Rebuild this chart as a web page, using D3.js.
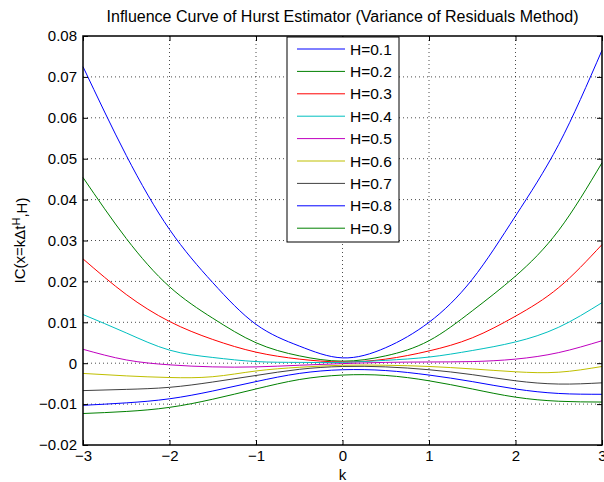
<!DOCTYPE html>
<html>
<head>
<meta charset="utf-8">
<script src="https://cdn.jsdelivr.net/npm/d3@7"></script>
<style>
  body { margin: 0; background: #fff; }
  svg text { font-family: "Liberation Sans", Arial, Helvetica, sans-serif; }
</style>
</head>
<body>
<div id="chart"></div>
<script>
const kValues = [-3, -2.5, -2, -1.5, -1, -0.5, 0, 0.5, 1, 1.5, 2, 2.5, 3];

// one array per Hurst exponent
const h01 = [0.0725, 0.0508, 0.0327, 0.0197, 0.0095, 0.0042, 0.0013, 0.0038, 0.0100, 0.0205, 0.0360, 0.0535, 0.0765];
const h02 = [0.0454, 0.0305, 0.0187, 0.0110, 0.0050, 0.0018, 0.0005, 0.0018, 0.0055, 0.0128, 0.0213, 0.0325, 0.0490];
const h03 = [0.0255, 0.0168, 0.0102, 0.0058, 0.0027, 0.0010, 0.0003, 0.0010, 0.0030, 0.0062, 0.0115, 0.0185, 0.0290];
const h04 = [0.0119, 0.0074, 0.0032, 0.0014, 0.0004, 0.0002, 0.0002, 0.0007, 0.0015, 0.0031, 0.0052, 0.0088, 0.0148];
const h05 = [0.0034, 0.0008, -0.0004, -0.0009, -0.0009, -0.0005, -0.0001, 0.0002, 0.0003, 0.0004, 0.0010, 0.0026, 0.0055];
const h06 = [-0.0025, -0.0031, -0.0035, -0.0033, -0.0019, -0.0010, -0.0005, -0.0005, -0.0008, -0.0014, -0.0021, -0.0022, -0.0008];
const h07 = [-0.0067, -0.0064, -0.0059, -0.0046, -0.0030, -0.0015, -0.0008, -0.0009, -0.0016, -0.0028, -0.0043, -0.0051, -0.0048];
const h08 = [-0.0103, -0.0097, -0.0087, -0.0068, -0.0045, -0.0025, -0.0016, -0.0018, -0.0029, -0.0045, -0.0063, -0.0074, -0.0076];
const h09 = [-0.0123, -0.0118, -0.0108, -0.0088, -0.0063, -0.0040, -0.0029, -0.0030, -0.0043, -0.0063, -0.0083, -0.0093, -0.0095];

const seriesNames = ["H=0.1", "H=0.2", "H=0.3", "H=0.4", "H=0.5", "H=0.6", "H=0.7", "H=0.8", "H=0.9"];
const seriesValues = [h01, h02, h03, h04, h05, h06, h07, h08, h09];

const xTicks = [-3, -2, -1, 0, 1, 2, 3];
const yTicks = [-0.02, -0.01, 0, 0.01, 0.02, 0.03, 0.04, 0.05, 0.06, 0.07, 0.08];

// matlab line colour order
const colors = ["#0000ff", "#008000", "#ff0000", "#00bfbf", "#bf00bf", "#bfbf00", "#404040", "#0000ff", "#008000"];

const W = 604, H = 482;
const margin = { top: 36, right: 2, bottom: 37, left: 83 };
const width = W - margin.left - margin.right,
      height = H - margin.top - margin.bottom;

const svg = d3.select("#chart")
              .append("svg")
              .attr("width", W)
              .attr("height", H);

const g = svg.append("g")
             .attr("transform", `translate(${margin.left},${margin.top})`);

const x = d3.scaleLinear().domain([-3, 3]).range([0, width]);
const y = d3.scaleLinear().domain([-0.02, 0.08]).range([height, 0]);

// dotted grid
g.append("g")
 .selectAll("line")
 .data(xTicks.slice(1, -1))
 .join("line")
 .attr("x1", d => x(d)).attr("x2", d => x(d))
 .attr("y1", 0).attr("y2", height)
 .attr("stroke", "#000").attr("stroke-opacity", 0.7)
 .attr("stroke-dasharray", "1,3");

g.append("g")
 .selectAll("line")
 .data(yTicks.slice(1, -1))
 .join("line")
 .attr("x1", 0).attr("x2", width)
 .attr("y1", d => y(d)).attr("y2", d => y(d))
 .attr("stroke", "#000").attr("stroke-opacity", 0.7)
 .attr("stroke-dasharray", "1,3");

// curves
const line = d3.line()
               .x((d, i) => x(kValues[i]))
               .y(d => y(d))
               .curve(d3.curveNatural);

seriesValues.forEach((vals, i) => {
    g.append("path")
     .datum(vals)
     .attr("fill", "none")
     .attr("stroke", colors[i])
     .attr("stroke-width", 1)
     .attr("d", line);
});

// axes, ticks pointing inward like matlab
const yFmt = d => d === 0 ? "0" : d3.format(".2f")(d);

const xAxis = g.append("g")
   .attr("transform", `translate(0,${height})`)
   .call(d3.axisBottom(x).tickValues(xTicks).tickSize(-5).tickPadding(4).tickFormat(d3.format("d")));
g.append("g")
   .call(d3.axisTop(x).tickValues(xTicks).tickSize(-5).tickFormat(""));
const yAxis = g.append("g")
   .call(d3.axisLeft(y).tickValues(yTicks).tickSize(-5).tickPadding(6).tickFormat(yFmt));
g.append("g")
   .attr("transform", `translate(${width},0)`)
   .call(d3.axisRight(y).tickValues(yTicks).tickSize(-5).tickFormat(""));

g.selectAll(".domain").remove();
g.selectAll(".tick line").attr("stroke", "#000");
[xAxis, yAxis].forEach(a => a.selectAll("text").style("font-size", "15px").attr("fill", "#000"));
xAxis.selectAll("text").attr("dy", "0.8em");

// box
g.append("rect")
 .attr("x", 0).attr("y", 0)
 .attr("width", width).attr("height", height)
 .attr("fill", "none")
 .attr("stroke", "#000")
 .attr("stroke-width", 1.5);

// title
svg.append("text")
   .attr("x", margin.left + width / 2)
   .attr("y", 22)
   .attr("text-anchor", "middle")
   .style("font-size", "16px")
   .text("Influence Curve of Hurst Estimator (Variance of Residuals Method)");

// axis labels
svg.append("text")
   .attr("x", margin.left + width / 2)
   .attr("y", H - 2)
   .attr("text-anchor", "middle")
   .style("font-size", "15px")
   .text("k");

const yLab = svg.append("text")
   .attr("transform", `translate(25,${margin.top + height / 2}) rotate(-90)`)
   .attr("text-anchor", "middle")
   .style("font-size", "15px");
yLab.append("tspan").text("IC(x=k\u0394t");
yLab.append("tspan").attr("dy", "-0.5em").style("font-size", "11px").text("H");
yLab.append("tspan").attr("dy", "0.5em").text(",H)");

// legend
const legend = svg.append("g")
                  .attr("transform", "translate(287,37)");

legend.append("rect")
      .attr("x", 0).attr("y", 0)
      .attr("width", 112).attr("height", 205)
      .attr("fill", "#fff")
      .attr("stroke", "#000");

seriesNames.forEach((name, i) => {
    const ly = 12 + i * 22.4;
    legend.append("line")
          .attr("x1", 10).attr("x2", 58)
          .attr("y1", ly).attr("y2", ly)
          .attr("stroke", colors[i]);
    legend.append("text")
          .attr("x", 63)
          .attr("y", ly + 5.5)
          .style("font-size", "15.5px")
          .text(name);
});
</script>
</body>
</html>
